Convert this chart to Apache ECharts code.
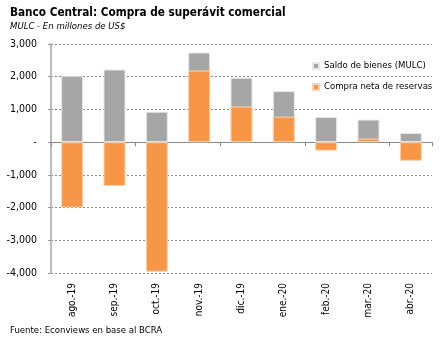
<!DOCTYPE html>
<html><head><meta charset="utf-8">
<script src="https://cdn.jsdelivr.net/npm/echarts@6/dist/echarts.min.js"></script>
<style>html,body{margin:0;padding:0;background:#fff}#c{width:442px;height:341px}</style>
</head><body><div id="c"></div>
<script>
const categories = ['ago.-19','sep.-19','oct.-19','nov.-19','dic.-19','ene.-20','feb.-20','mar.-20','abr.-20'];
const saldoBienes = [2030, 2220, 930, 2740, 1970, 1560, 770, 690, 280];
const compraNeta = [-2000, -1340, -3960, 2190, 1090, 780, -260, 110, -570];
const yTicks = [-4000, -3000, -2000, -1000, 0, 1000, 2000, 3000];
const chart = echarts.init(document.getElementById('c'), null, {renderer:'canvas'});
chart.setOption({
  animation:false,
  backgroundColor:'#fff',
  title:[
    {text:'Banco Central: Compra de superávit comercial', left:10, top:7, padding:0,
     textStyle:{fontFamily:'"DejaVu Sans Condensed", "DejaVu Sans", sans-serif', fontWeight:'bold', fontSize:11.7, color:'#000'}},
    {text:'MULC - En millones de US$', left:10, top:22, padding:0,
     textStyle:{fontFamily:'"DejaVu Sans Condensed", sans-serif', fontStyle:'italic', fontWeight:'normal', fontSize:9.5, color:'#000'}},
    {text:'Fuente: Econviews en base al BCRA', left:10, top:326, padding:0,
     textStyle:{fontFamily:'"DejaVu Sans Condensed", sans-serif', fontWeight:'normal', fontSize:9.5, color:'#000'}}
  ],
  legend:{orient:'vertical', left:307, top:56, itemWidth:6, itemHeight:6, itemGap:11, icon:'rect',
    textStyle:{fontFamily:'"DejaVu Sans Condensed", sans-serif', fontSize:9.5, color:'#000'},
    data:['Saldo de bienes (MULC)','Compra neta de reservas']},
  grid:{left:51, right:10, top:44, bottom:68, containLabel:false},
  xAxis:[
    {type:'category', data:categories, position:'bottom',
     axisLine:{onZero:true, lineStyle:{color:'#888', width:1}},
     axisTick:{show:true, inside:false, length:4, lineStyle:{color:'#888'}},
     axisLabel:{show:false}},
    {type:'category', data:categories, position:'bottom',
     axisLine:{show:false, onZero:false}, axisTick:{show:false},
     axisLabel:{rotate:90, margin:10, fontFamily:'"DejaVu Sans Condensed", sans-serif', fontSize:10, color:'#000'}}
  ],
  yAxis:{type:'value', min:-4000, max:3000, interval:1000,
    axisLine:{show:true, lineStyle:{color:'#bbb', width:2}},
    axisTick:{show:true, length:3, lineStyle:{color:'#999'}},
    splitLine:{show:true, lineStyle:{color:'#888', type:[2,2], width:1}},
    axisLabel:{margin:14, fontFamily:'"DejaVu Sans Condensed", sans-serif', fontSize:10.5, color:'#000',
      formatter:v => v === 0 ? '-' : (yTicks.includes(v) ? v.toLocaleString('en-US') : '')}},
  series:[
    {name:'Saldo de bienes (MULC)', type:'bar', data:saldoBienes, barWidth:'52%', barGap:'-100%',
     itemStyle:{color:'#a6a6a6', borderColor:'#e8e8e8', borderWidth:1}},
    {name:'Compra neta de reservas', type:'bar', data:compraNeta, barWidth:'52%', barGap:'-100%',
     itemStyle:{color:'#f79646', borderColor:'#fbd3b0', borderWidth:1}}
  ]
});
</script></body></html>
